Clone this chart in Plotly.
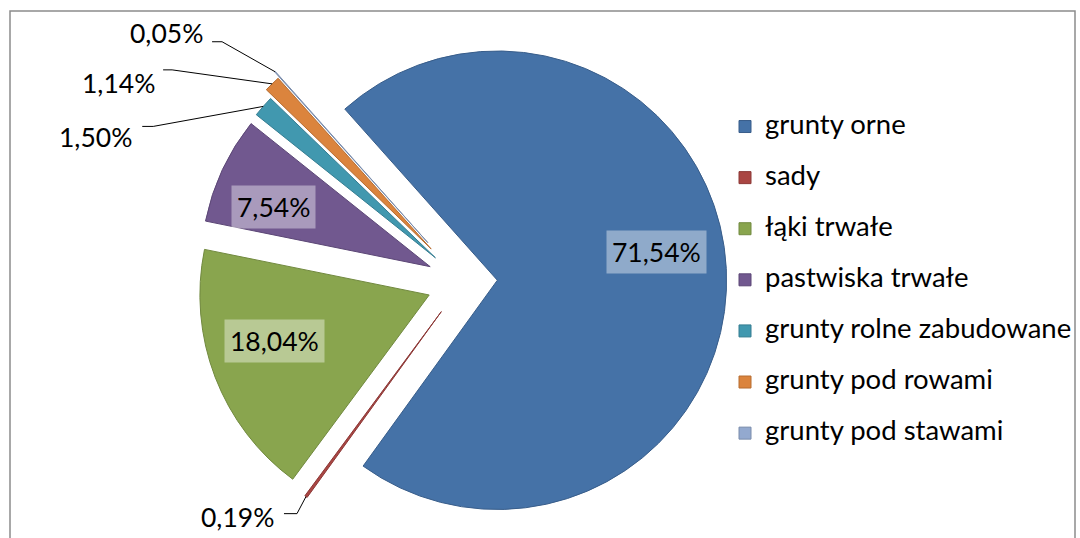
import math
import plotly.graph_objects as go

# ---------------- data ----------------
categories = ["grunty orne", "sady", "łąki trwałe", "pastwiska trwałe",
              "grunty rolne zabudowane", "grunty pod rowami", "grunty pod stawami"]
shares = [71.54, 0.19, 18.04, 7.54, 1.50, 1.14, 0.05]

# ---------------- style ----------------
colors = ["#4572A7", "#AA4643", "#89A54E", "#71588F", "#4198AF", "#DB843D", "#93A9CF"]
edge_colors = ["#385D8A", "#8C3836", "#71893F", "#5C4776", "#357D91", "#B66D31", "#7A8CAB"]
pulls = [0.15, 0.16, 0.158, 0.158, 0.16, 0.20, 0.23]
ROT = -41.7
W, H = 1080, 564
DOM_X = [0.10, 0.7574]
FONT = "Lato, Liberation Sans, Arial, sans-serif"

labels_txt = [f"{v:.2f}".replace(".", ",") + "%" for v in shares]

# geometry of the pie exactly as plotly lays it out (margins 0, domain y [0,1])
cx = W * (DOM_X[0] + DOM_X[1]) / 2
cy = H / 2
r = min(W * (DOM_X[1] - DOM_X[0]), H) / (2 + 2 * max(pulls))
total = sum(shares)
mids = []
acc = 0.0
for v in shares:
    mids.append(ROT + (acc + v / 2) / total * 360.0)
    acc += v


def u(deg):
    a = math.radians(deg)
    return math.sin(a), -math.cos(a)


def to_paper(x, y):
    return x / W, 1 - y / H


def vertex(i):
    ux, uy = u(mids[i])
    return cx + pulls[i] * r * ux, cy + pulls[i] * r * uy


fig = go.Figure()
fig.add_trace(go.Pie(
    labels=[f"<span style='font-size:27.5px'>{c}</span><br> " for c in categories],
    values=shares,
    sort=False,
    direction="clockwise",
    rotation=ROT,
    pull=pulls,
    marker=dict(colors=colors, line=dict(color=edge_colors, width=1)),
    textinfo="none",
    hoverinfo="label+percent",
    domain=dict(x=DOM_X, y=[0, 1]),
))

annotations = []
shapes = []

# inside labels (angle shift, radius fraction)
inside = {0: (-7.3, 0.705), 2: (4.5, 0.705), 3: (-4.0, 0.73)}
for i, (shift, frac) in inside.items():
    vx, vy = vertex(i)
    ux, uy = u(mids[i] + shift)
    px, py = vx + frac * r * ux, vy + frac * r * uy
    xp, yp = to_paper(px, py)
    annotations.append(dict(
        x=xp, y=yp, xref="paper", yref="paper", text=labels_txt[i], showarrow=False,
        font=dict(family=FONT, size=26.5, color="black"),
        bgcolor="rgba(255,255,255,0.4)", borderpad=5, xanchor="center", yanchor="middle"))

# outside labels with leader lines: offsets (px) from slice outer-arc midpoint
outside = {
    1: ((-68, 20), (-9, 17), (-22, 17)),
    4: ((-168, 31), (-110, 20), (-121, 20)),
    5: ((-154, -1), (-100, -14), (-109, -14)),
    6: ((-109, -39), (-53, -30), (-63, -30)),
}
for i, (lab, elb, end) in outside.items():
    ux, uy = u(mids[i])
    ax, ay = cx + (1 + pulls[i]) * r * ux, cy + (1 + pulls[i]) * r * uy
    lx, ly = to_paper(ax + lab[0], ay + lab[1])
    annotations.append(dict(
        x=lx, y=ly, xref="paper", yref="paper", text=labels_txt[i], showarrow=False,
        font=dict(family=FONT, size=26.5, color="black"), xanchor="center", yanchor="middle"))
    p0 = to_paper(ax, ay)
    p1 = to_paper(ax + elb[0], ay + elb[1])
    p2 = to_paper(ax + end[0], ay + end[1])
    for a, b in ((p0, p1), (p1, p2)):
        shapes.append(dict(type="line", xref="paper", yref="paper",
                           x0=a[0], y0=a[1], x1=b[0], y1=b[1],
                           line=dict(color="black", width=1)))

# chart-area frame
shapes.append(dict(type="rect", xref="paper", yref="paper",
                   x0=10 / W, x1=1075 / W, y0=-0.2, y1=1 - 11 / H,
                   line=dict(color="#8C8C8C", width=1.5), layer="below"))

fig.update_layout(
    width=W, height=H,
    margin=dict(l=0, r=0, t=0, b=0),
    paper_bgcolor="white",
    plot_bgcolor="white",
    showlegend=True,
    legend=dict(x=725 / W, y=1 - 108 / H, xanchor="left", yanchor="top",
                font=dict(family=FONT, size=18.5, color="black"),
                valign="top", bgcolor="rgba(0,0,0,0)", tracegroupgap=0),
    annotations=annotations,
    shapes=shapes,
)

fig.write_html("out.html",
               config={"displayModeBar": False},
               post_script="document.body.style.margin='0';document.body.style.overflow='hidden';")
